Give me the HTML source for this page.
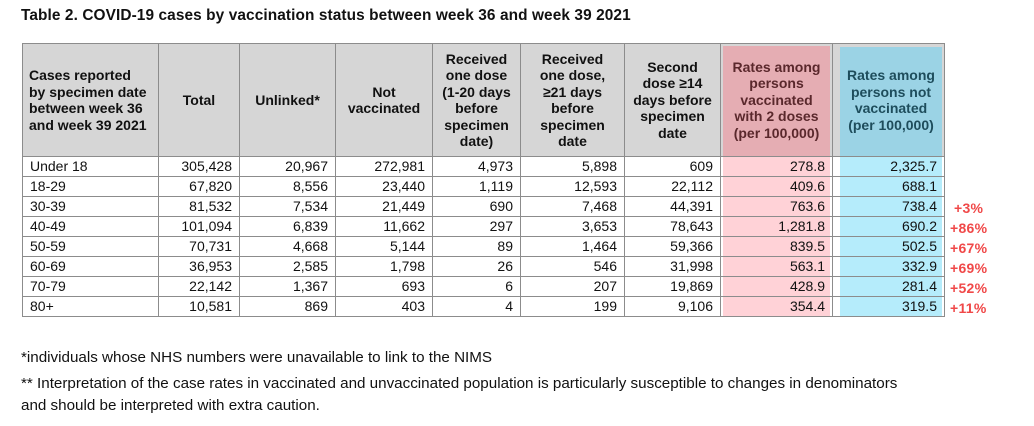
<!DOCTYPE html>
<html><head><meta charset="utf-8"><style>
body{margin:0;width:1034px;height:426px;background:#fff;position:relative;overflow:hidden;font-family:"Liberation Sans",Arial,sans-serif;color:#111}
.title{position:absolute;left:21px;top:7px;font-weight:bold;font-size:15.4px;letter-spacing:0.1px}
table{position:absolute;left:22px;top:43px;border-collapse:collapse;table-layout:fixed;width:922px}
td,th{border:1px solid #8c8c8c;padding:0 7px;font-size:14px;height:19px;line-height:19px;text-align:right;white-space:nowrap}
th{background:#d6d6d6;font-size:14px;line-height:16.5px;text-align:center;height:112px;padding:0}
th.l{text-align:left;padding-left:6px}
td.l{text-align:left}
th.p{box-shadow:inset 2px 2px 0 #d6d6d6,inset -2px 0 0 #d6d6d6;background:#e5adb3;color:#5a282c}
th.b{box-shadow:inset 7px 3px 0 #d6d6d6,inset -2px 0 0 #d6d6d6;background:#9bd3e5;color:#1e4d5c;padding-left:5px}
td.p{background:#ffd2d7;box-shadow:inset 2px 0 0 #fff,inset -2px 0 0 #fff}
td.b{background:#b5ecfb;box-shadow:inset 7px 0 0 #fff,inset -2px 0 0 #fff}
.a{position:absolute;left:950px;color:#f04848;font-weight:bold;font-size:14px;letter-spacing:0.3px}
.f{position:absolute;left:21px;font-size:15.2px}
</style></head><body>
<div class="title">Table 2. COVID-19 cases by vaccination status between week 36 and week 39 2021</div>
<table>
<colgroup><col style="width:136px"><col style="width:81px"><col style="width:96px"><col style="width:97px"><col style="width:88px"><col style="width:104px"><col style="width:96px"><col style="width:112px"><col style="width:112px"></colgroup>
<tr><th class="l">Cases reported<br>by specimen date<br>between week 36<br>and week 39 2021</th><th>Total</th><th>Unlinked*</th><th>Not<br>vaccinated</th><th>Received<br>one dose<br>(1-20 days<br>before<br>specimen<br>date)</th><th>Received<br>one dose,<br>≥21 days<br>before<br>specimen<br>date</th><th>Second<br>dose ≥14<br>days before<br>specimen<br>date</th><th class="p">Rates among<br>persons<br>vaccinated<br>with 2 doses<br>(per 100,000)</th><th class="b">Rates among<br>persons not<br>vaccinated<br>(per 100,000)</th></tr>
<tr><td class="l">Under 18</td><td>305,428</td><td>20,967</td><td>272,981</td><td>4,973</td><td>5,898</td><td>609</td><td class="p">278.8</td><td class="b">2,325.7</td></tr>
<tr><td class="l">18-29</td><td>67,820</td><td>8,556</td><td>23,440</td><td>1,119</td><td>12,593</td><td>22,112</td><td class="p">409.6</td><td class="b">688.1</td></tr>
<tr><td class="l">30-39</td><td>81,532</td><td>7,534</td><td>21,449</td><td>690</td><td>7,468</td><td>44,391</td><td class="p">763.6</td><td class="b">738.4</td></tr>
<tr><td class="l">40-49</td><td>101,094</td><td>6,839</td><td>11,662</td><td>297</td><td>3,653</td><td>78,643</td><td class="p">1,281.8</td><td class="b">690.2</td></tr>
<tr><td class="l">50-59</td><td>70,731</td><td>4,668</td><td>5,144</td><td>89</td><td>1,464</td><td>59,366</td><td class="p">839.5</td><td class="b">502.5</td></tr>
<tr><td class="l">60-69</td><td>36,953</td><td>2,585</td><td>1,798</td><td>26</td><td>546</td><td>31,998</td><td class="p">563.1</td><td class="b">332.9</td></tr>
<tr><td class="l">70-79</td><td>22,142</td><td>1,367</td><td>693</td><td>6</td><td>207</td><td>19,869</td><td class="p">428.9</td><td class="b">281.4</td></tr>
<tr><td class="l">80+</td><td>10,581</td><td>869</td><td>403</td><td>4</td><td>199</td><td>9,106</td><td class="p">354.4</td><td class="b">319.5</td></tr>
</table>
<div class="a" style="top:200px;left:954px">+3%</div>
<div class="a" style="top:220px">+86%</div>
<div class="a" style="top:240px">+67%</div>
<div class="a" style="top:260px">+69%</div>
<div class="a" style="top:280px">+52%</div>
<div class="a" style="top:300px">+11%</div>
<div class="f" style="top:349px">*individuals whose NHS numbers were unavailable to link to the NIMS</div>
<div class="f" style="top:375px">** Interpretation of the case rates in vaccinated and unvaccinated population is particularly susceptible to changes in denominators</div>
<div class="f" style="top:397px">and should be interpreted with extra caution.</div>
</body></html>
